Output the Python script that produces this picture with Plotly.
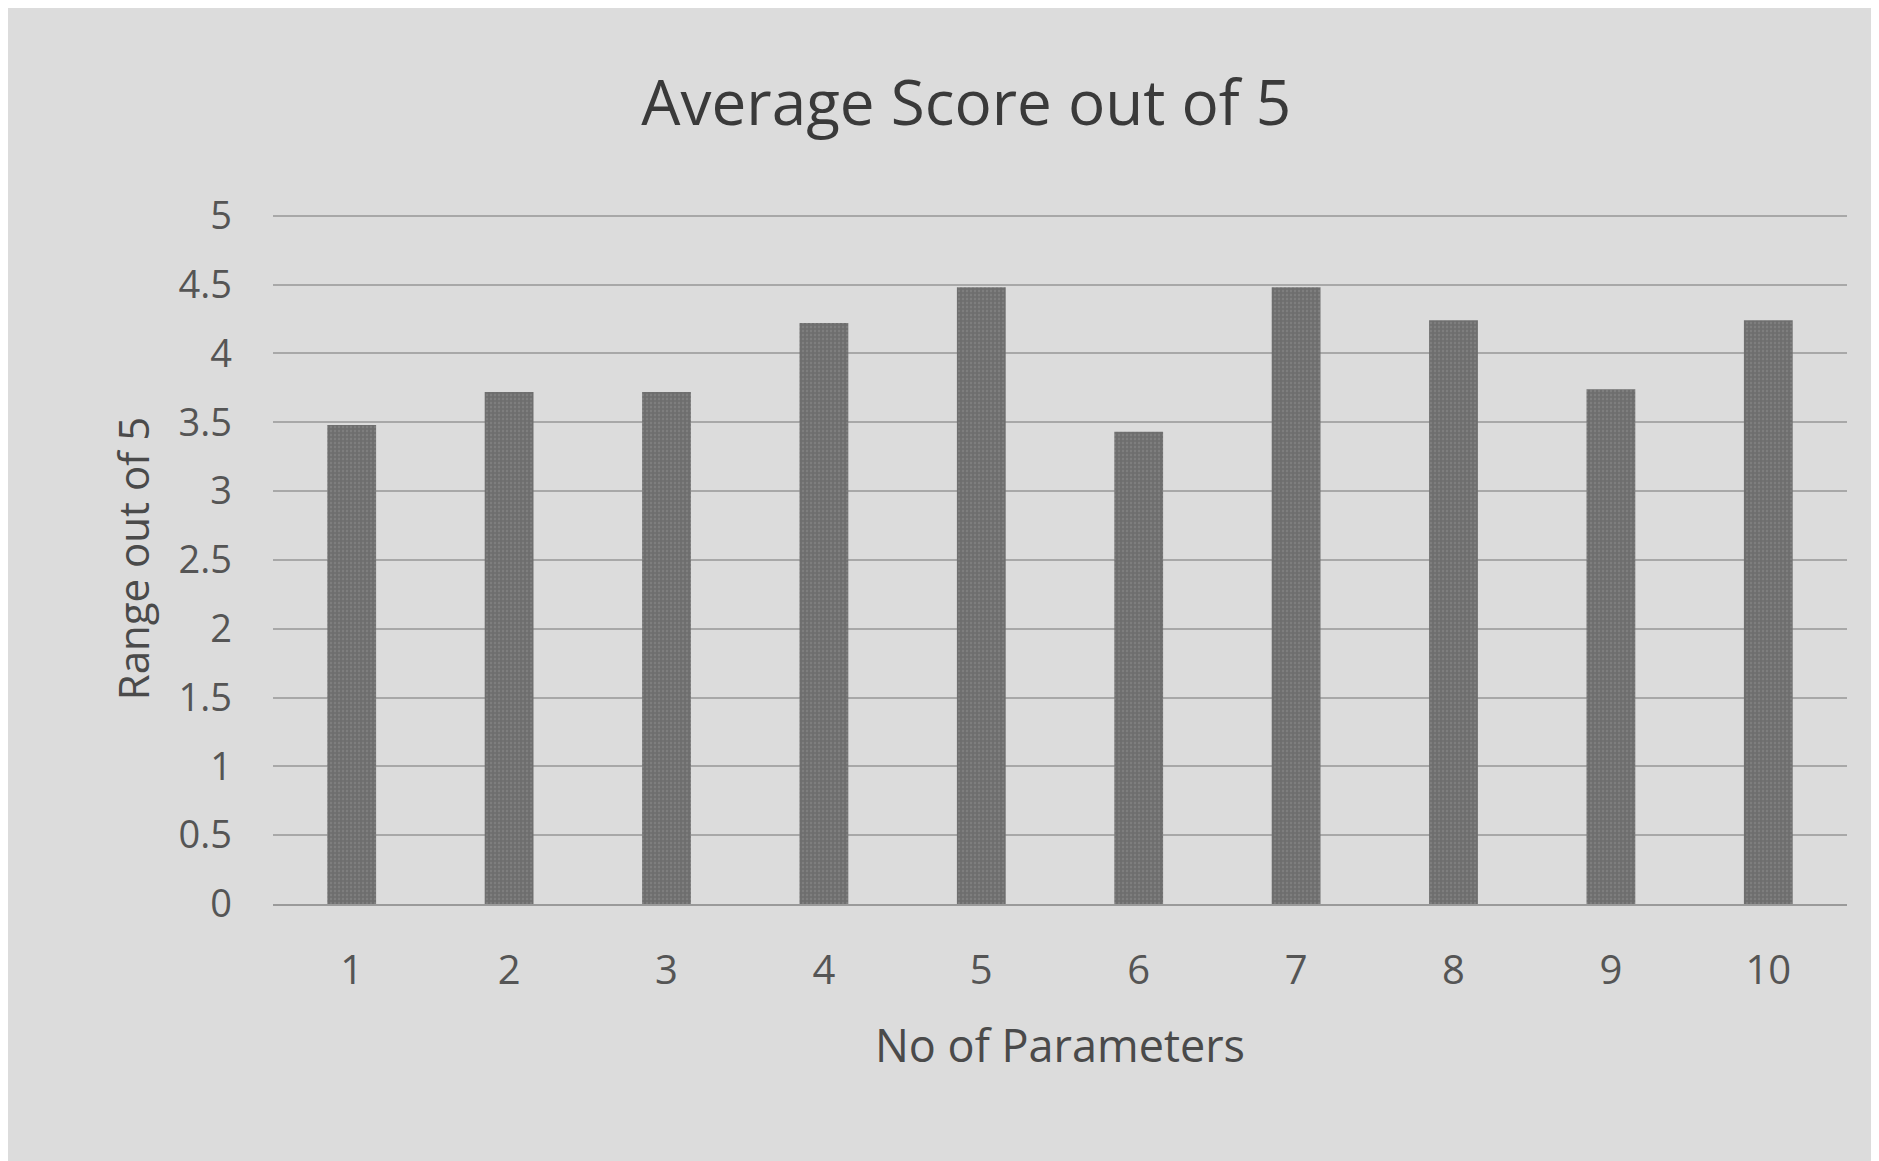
import plotly.graph_objects as go

categories = ["1", "2", "3", "4", "5", "6", "7", "8", "9", "10"]
scores = [3.48, 3.72, 3.72, 4.22, 4.48, 3.43, 4.48, 4.24, 3.74, 4.24]
y_ticks = [0, 0.5, 1, 1.5, 2, 2.5, 3, 3.5, 4, 4.5, 5]
y_labels = ["0", "0.5", "1", "1.5", "2", "2.5", "3", "3.5", "4", "4.5", "5"]

fig = go.Figure(go.Bar(
    x=categories, y=scores,
    marker=dict(color="#6e6e6e", line=dict(width=0),
                pattern=dict(shape=".", fgcolor="#8e8e8e", size=4, solidity=0.3)),
    width=0.31,
))

fig.update_layout(
    width=1879, height=1161,
    paper_bgcolor="#dcdcdc", plot_bgcolor="#dcdcdc",
    font=dict(family="Open Sans, Liberation Sans, sans-serif", color="#555555"),
    title=dict(text="Average Score out of 5", x=0.51, xanchor="center", y=0.918, yanchor="middle",
               font=dict(size=62, color="#3a3a3a")),
    margin=dict(l=265, r=40, t=205, b=265),
    showlegend=False,
    bargap=0.69,
)
fig.update_xaxes(
    title=dict(text="No of Parameters", font=dict(size=45, color="#4a4a4a"), standoff=35),
    tickfont=dict(size=40, color="#555555"),
    showgrid=False, showline=True, linecolor="#9a9a9a", linewidth=2, ticks="",
    ticklabelstandoff=30,
)
fig.update_yaxes(
    title=dict(text="Range out of 5", font=dict(size=42, color="#4a4a4a"), standoff=15),
    tickfont=dict(size=38, color="#555555"),
    range=[0, 5.02], tickvals=y_ticks, ticktext=y_labels,
    showgrid=True, gridcolor="#a8a8a8", gridwidth=2, zeroline=False,
    ticklabelstandoff=40,
)

fig.write_html("out.html")
